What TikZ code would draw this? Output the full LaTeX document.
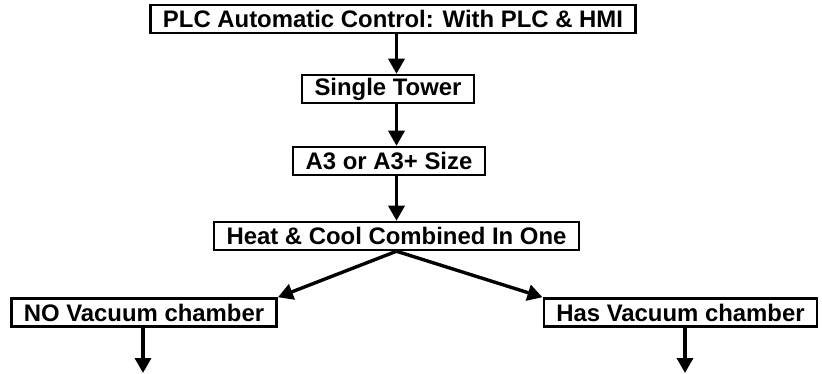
\documentclass[tikz,border=0pt]{standalone}
\usepackage{fontspec}
\setmainfont{Liberation Sans}
\usetikzlibrary{arrows.meta}

\begin{document}
\begin{tikzpicture}
  [x=1pt,y=-1pt,
   every node/.style={draw,line width=2.5pt,inner xsep=12.5pt,inner ysep=0pt,
     minimum height=28pt,font=\fontsize{23.9}{28}\selectfont\bfseries},
   arr/.style={line width=3.4pt,-{Triangle[length=15pt,width=16pt]}}]

  \useasboundingbox (0,0) rectangle (822,374);

  \node (plc)   at (393,19)    {PLC Automatic Control: With PLC \& HMI};
  \node (tower) at (388,89)    {Single Tower};
  \node (size)  at (389,161)   {A3 or A3+ Size};
  \node (heat)  at (396.5,236) {Heat \& Cool Combined In One};
  \node (novac) at (144,312.5) {NO Vacuum chamber};
  \node (hasvac) at (680.5,312.5) {Has Vacuum chamber};

  \coordinate (noend)  at (143,373);
  \coordinate (hasend) at (685,373);

  \foreach \from/\to in {plc/tower,tower/size,size/heat}
    \draw[arr] (\from.south -| heat) -- (\to.north -| heat);

  \draw[arr] (heat.south) -- (novac.north east);
  \draw[arr] (heat.south) -- (hasvac.north west);
  \draw[arr] (novac.south -| noend) -- (noend);
  \draw[arr] (hasvac.south -| hasend) -- (hasend);

\end{tikzpicture}
\end{document}
